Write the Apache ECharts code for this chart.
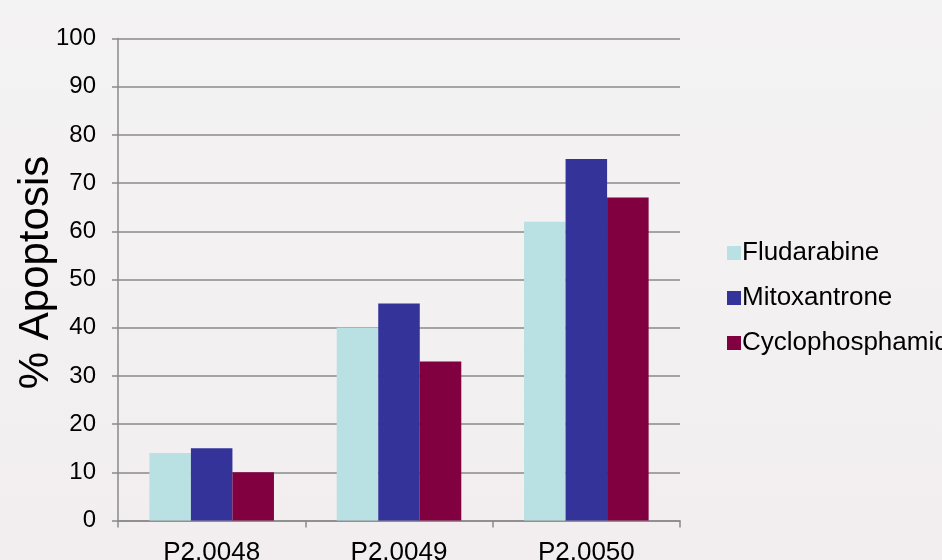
<!DOCTYPE html>
<html>
<head>
<meta charset="utf-8">
<script src="https://cdn.jsdelivr.net/npm/echarts@6/dist/echarts.min.js"></script>
<style>
  html, body { margin: 0; padding: 0; background: #f3f1f1; }
  #chart { width: 942px; height: 560px; }
</style>
</head>
<body>
<div id="chart"></div>
<script>
// Apoptosis response per patient sample and drug
const categories = ['P2.0048', 'P2.0049', 'P2.0050'];
const fludarabine = [14, 40, 62];
const mitoxantrone = [15, 45, 75];
const cyclophosphamide = [10, 33, 67];
const yTicks = { min: 0, max: 100, interval: 10 };

const axisGrey = '#8a8a8a';
const font = 'Liberation Sans, Arial, sans-serif';

const chart = echarts.init(document.getElementById('chart'));
chart.setOption({
  backgroundColor: {
    type: 'linear', x: 0, y: 0, x2: 0, y2: 1,
    colorStops: [{ offset: 0, color: '#f4f3f3' }, { offset: 1, color: '#f2eef0' }]
  },
  animation: false,
  textStyle: { fontFamily: font },
  grid: {
    left: 118, right: 262, top: 38.5, bottom: 39.5,
    containLabel: false,
    outerBoundsMode: 'none'
  },
  legend: {
    orient: 'vertical',
    left: 722,
    top: 235,
    itemWidth: 14,
    itemHeight: 14,
    itemGap: 19,
    icon: 'rect',
    textStyle: { fontSize: 26, color: '#000', fontFamily: font, padding: [0, 0, 0, -4] },
    data: ['Fludarabine', 'Mitoxantrone', 'Cyclophosphamide']
  },
  xAxis: {
    type: 'category',
    data: categories,
    axisLine: { lineStyle: { color: axisGrey, width: 1.5 } },
    axisTick: { show: true, length: 7, lineStyle: { color: axisGrey, width: 1.5 } },
    axisLabel: { fontSize: 26, color: '#000', margin: 19 },
    splitLine: { show: false }
  },
  yAxis: {
    type: 'value',
    min: yTicks.min,
    max: yTicks.max,
    interval: yTicks.interval,
    name: '% Apoptosis',
    nameLocation: 'middle',
    nameGap: 61,
    nameMoveOverlap: false,
    nameTextStyle: { fontSize: 42, color: '#000', padding: [0, 0, 0, 14] },
    axisLine: { show: true, lineStyle: { color: axisGrey, width: 1.5 } },
    axisTick: { show: true, length: 6, lineStyle: { color: axisGrey, width: 1.5 } },
    axisLabel: { fontSize: 24, color: '#000', margin: 22 },
    splitLine: { show: true, lineStyle: { color: axisGrey, width: 1.5 } }
  },
  series: [
    { name: 'Fludarabine', type: 'bar', data: fludarabine, itemStyle: { color: '#b9e0e3' }, barGap: '0%', barCategoryGap: '33.5%' },
    { name: 'Mitoxantrone', type: 'bar', data: mitoxantrone, itemStyle: { color: '#333399' }, barGap: '0%', barCategoryGap: '33.5%' },
    { name: 'Cyclophosphamide', type: 'bar', data: cyclophosphamide, itemStyle: { color: '#800040' }, barGap: '0%', barCategoryGap: '33.5%' }
  ]
});
</script>
</body>
</html>
